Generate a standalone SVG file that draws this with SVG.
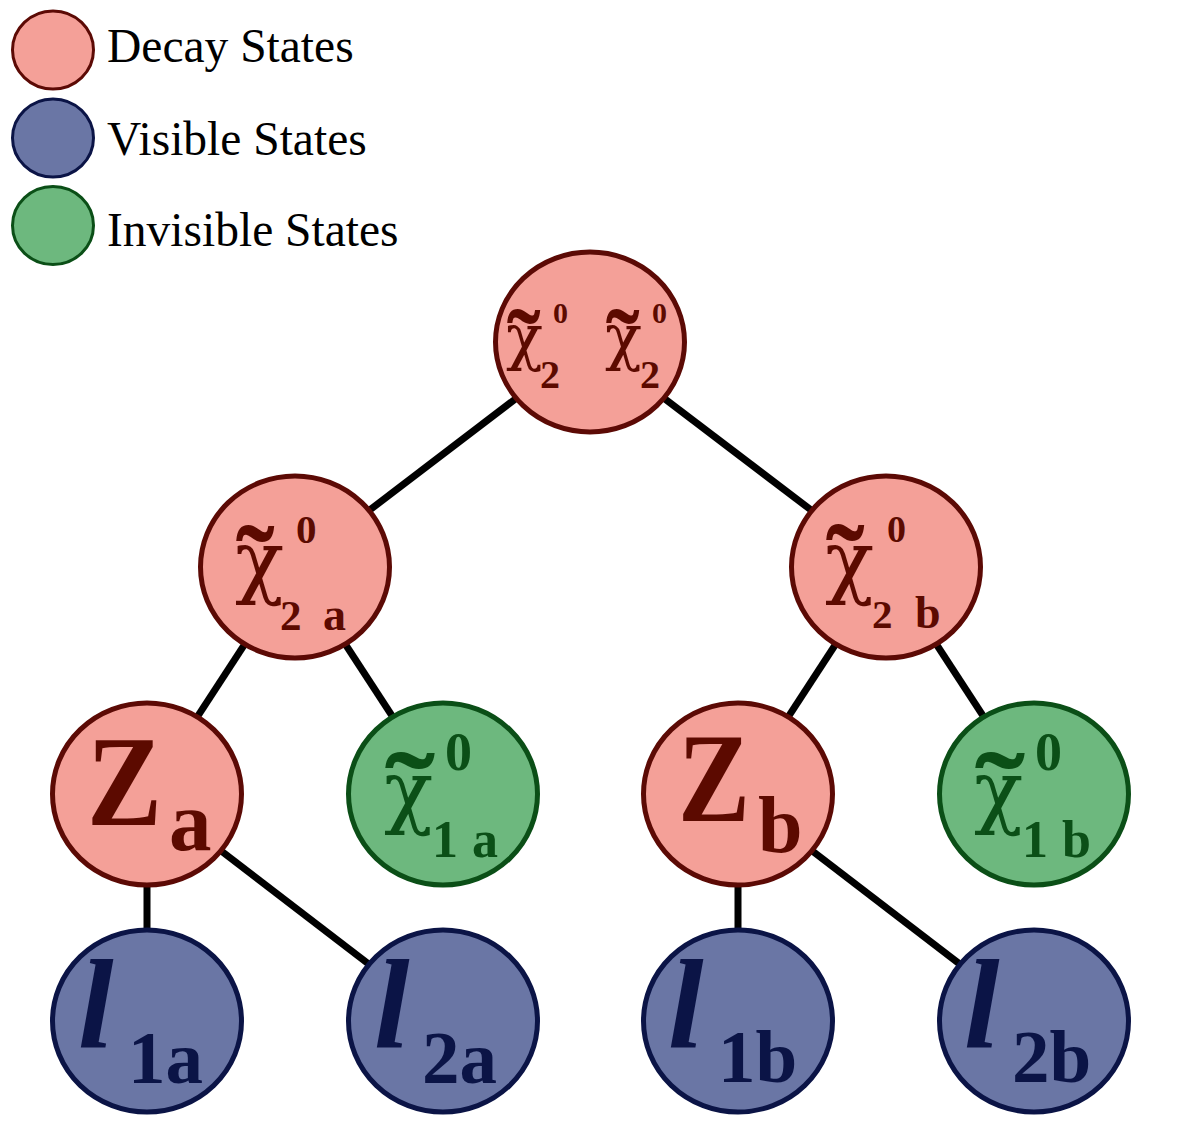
<svg xmlns="http://www.w3.org/2000/svg" width="1182" height="1136" viewBox="0 0 1182 1136">
<style>
.decay{fill:#F4A098;stroke:#5C0A05;stroke-width:5}
.vis{fill:#6A76A5;stroke:#0B1446;stroke-width:5}
.inv{fill:#6DB87E;stroke:#0B4F17;stroke-width:5}
.lg{stroke-width:3}
.legtext{font-family:"Liberation Serif","Times New Roman",serif;font-size:47.5px;fill:#000}
.t{font-family:"Liberation Serif","Times New Roman",serif}
.chi{font-family:"DejaVu Serif","Liberation Serif",serif}
.til{font-family:"Liberation Serif","Times New Roman",serif;font-weight:bold}
.b{font-weight:bold}
.dt{fill:#5C0A00}
.vt{fill:#0B1446}
.it{fill:#0B4F17}
.edge{stroke:#000;stroke-width:7;fill:none}
</style>
<g id="legend">
<g id="legend-decay"><ellipse class="decay lg" cx="53" cy="50" rx="40.5" ry="39"/><text class="legtext" x="107" y="62">Decay States</text></g>
<g id="legend-visible"><ellipse class="vis lg" cx="53" cy="138" rx="40.5" ry="39"/><text class="legtext" x="107" y="155">Visible States</text></g>
<g id="legend-invisible"><ellipse class="inv lg" cx="53" cy="225.5" rx="40.5" ry="39"/><text class="legtext" x="107" y="246">Invisible States</text></g>
</g>
<g id="connectors">
<line class="edge" x1="590" y1="342" x2="295" y2="567"/>
<line class="edge" x1="590" y1="342" x2="886" y2="567"/>
<line class="edge" x1="295" y1="567" x2="147" y2="794"/>
<line class="edge" x1="295" y1="567" x2="443" y2="794"/>
<line class="edge" x1="886" y1="567" x2="738" y2="794"/>
<line class="edge" x1="886" y1="567" x2="1034" y2="794"/>
<line class="edge" x1="147" y1="794" x2="147" y2="1021"/>
<line class="edge" x1="147" y1="794" x2="443" y2="1021"/>
<line class="edge" x1="738" y1="794" x2="738" y2="1021"/>
<line class="edge" x1="738" y1="794" x2="1034" y2="1021"/>
</g>
<g id="node-top">
<ellipse class="decay" cx="590" cy="342" rx="94.5" ry="90"/>
<text class="chi dt" x="506" y="358" font-size="61">χ</text>
<text class="til dt" x="507" y="379" font-size="100">˜</text>
<text class="t b dt" x="553" y="323" font-size="30">0</text>
<text class="t b dt" x="540" y="388" font-size="40">2</text>
<text class="chi dt" x="605" y="358" font-size="61">χ</text>
<text class="til dt" x="606" y="379" font-size="100">˜</text>
<text class="t b dt" x="652" y="323" font-size="30">0</text>
<text class="t b dt" x="640" y="388" font-size="40">2</text>
</g>
<g id="node-chi2a">
<ellipse class="decay" cx="295" cy="567" rx="94.5" ry="91"/>
<text class="chi dt" x="235" y="588" font-size="81">χ</text>
<text class="til dt" x="236" y="605" font-size="115">˜</text>
<text class="t b dt" x="296" y="543" font-size="41">0</text>
<text class="t b dt" x="280" y="630" font-size="43">2 <tspan x="323" font-size="46">a</tspan></text>
</g>
<g id="node-chi2b">
<ellipse class="decay" cx="886" cy="567" rx="94.5" ry="91"/>
<text class="chi dt" x="825" y="588" font-size="81">χ</text>
<text class="til dt" x="826" y="604" font-size="115">˜</text>
<text class="t b dt" x="887" y="542" font-size="38">0</text>
<text class="t b dt" x="872" y="628" font-size="41">2 <tspan x="915" font-size="46">b</tspan></text>
</g>
<g id="node-Za">
<ellipse class="decay" cx="147" cy="794" rx="94.5" ry="91"/>
<text class="t b dt" x="87" y="825" font-size="130" textLength="75" lengthAdjust="spacingAndGlyphs">Z</text>
<text class="t b dt" x="169" y="850" font-size="85">a</text>
</g>
<g id="node-chi1a">
<ellipse class="inv" cx="443" cy="794" rx="94.5" ry="91"/>
<text class="chi it" x="384" y="818" font-size="81">χ</text>
<text class="til it" font-size="115" transform="translate(385,832) scale(1.3,1)">˜</text>
<text class="t b it" x="445" y="770" font-size="54">0</text>
<text class="t b it" x="432" y="857" font-size="52">1 <tspan x="472">a</tspan></text>
</g>
<g id="node-Zb">
<ellipse class="decay" cx="738" cy="794" rx="94.5" ry="91"/>
<text class="t b dt" x="678" y="821" font-size="128" textLength="72" lengthAdjust="spacingAndGlyphs">Z</text>
<text class="t b dt" x="758" y="852" font-size="80">b</text>
</g>
<g id="node-chi1b">
<ellipse class="inv" cx="1034" cy="794" rx="94.5" ry="91"/>
<text class="chi it" x="974" y="818" font-size="81">χ</text>
<text class="til it" font-size="115" transform="translate(975,832) scale(1.3,1)">˜</text>
<text class="t b it" x="1035" y="770" font-size="54">0</text>
<text class="t b it" x="1022" y="857" font-size="52">1 <tspan x="1062">b</tspan></text>
</g>
<g id="node-l1a">
<ellipse class="vis" cx="147" cy="1021" rx="94.5" ry="91"/>
<text class="t b vt" x="78" y="1047" font-size="128" font-style="italic">l</text>
<text class="t b vt" x="128" y="1083" font-size="75">1a</text>
</g>
<g id="node-l2a">
<ellipse class="vis" cx="443" cy="1021" rx="94.5" ry="91"/>
<text class="t b vt" x="374" y="1047" font-size="128" font-style="italic">l</text>
<text class="t b vt" x="422" y="1083" font-size="75">2a</text>
</g>
<g id="node-l1b">
<ellipse class="vis" cx="738" cy="1021" rx="94.5" ry="91"/>
<text class="t b vt" x="668" y="1047" font-size="128" font-style="italic">l</text>
<text class="t b vt" x="718" y="1082" font-size="75">1b</text>
</g>
<g id="node-l2b">
<ellipse class="vis" cx="1034" cy="1021" rx="94.5" ry="91"/>
<text class="t b vt" x="964" y="1047" font-size="128" font-style="italic">l</text>
<text class="t b vt" x="1012" y="1082" font-size="75">2b</text>
</g>
</svg>
